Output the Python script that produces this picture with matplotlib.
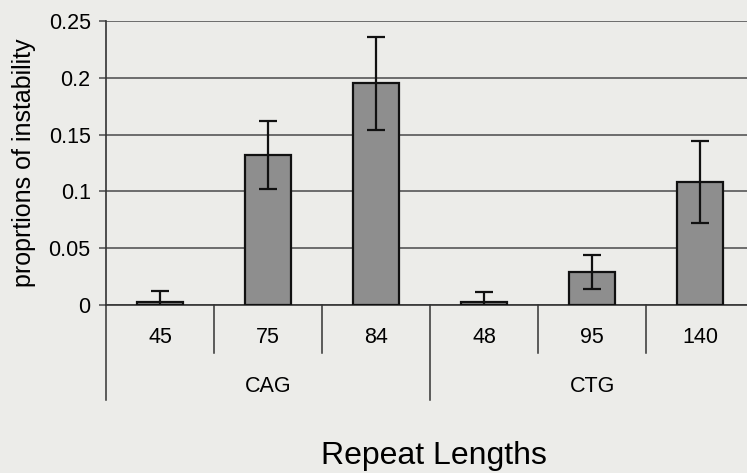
import matplotlib.pyplot as plt
import numpy as np

# repeat lengths grouped by repeat type
lengths = ["45", "75", "84", "48", "95", "140"]
groups = ["CAG", "CTG"]
group_size = [3, 3]
instability = [0.003, 0.132, 0.195, 0.003, 0.029, 0.108]
errors = [0.009, 0.030, 0.041, 0.008, 0.015, 0.036]

plt.rcParams['font.family'] = ['Liberation Sans', 'DejaVu Sans']

fig = plt.figure(figsize=(7.47, 4.73), dpi=100)
fig.patch.set_facecolor('#ecece9')
ax = fig.add_axes([0.1419, 0.3552, 0.8677, 0.6004])
ax.set_facecolor('#ecece9')

x = np.arange(len(lengths))
ax.bar(x, instability, width=0.42, color='#8e8e8e', edgecolor='#111111',
       linewidth=1.6, zorder=3)
ax.errorbar(x, instability, yerr=errors, fmt='none', ecolor='#111111',
            elinewidth=1.6, capsize=6.5, capthick=1.6, zorder=4)

ax.set_xlim(-0.5, len(lengths) - 0.5)
ax.set_ylim(0, 0.25)
ax.set_yticks([0, 0.05, 0.1, 0.15, 0.2, 0.25])
ax.set_yticklabels(["0", "0.05", "0.1", "0.15", "0.2", "0.25"], fontsize=15.5)
ax.yaxis.grid(True, color='#4a4a4a', linewidth=1.1, zorder=0)
ax.tick_params(axis='y', length=5, width=1.1, color='#4a4a4a', pad=6)
ax.set_xticks([])
for side in ['top', 'right']:
    ax.spines[side].set_visible(False)
ax.spines['left'].set_color('#333333')
ax.spines['left'].set_linewidth(1.2)
ax.spines['bottom'].set_color('#333333')
ax.spines['bottom'].set_linewidth(1.2)

ax.text(-0.1265, 0.502, "proprtions of instability", transform=ax.transAxes,
        rotation=90, ha='center', va='center', fontsize=18)

# category labels and dividers below the axis
trans = ax.get_xaxis_transform()
for i, lab in enumerate(lengths):
    ax.text(i, -0.134, lab, transform=trans, ha='center', va='baseline',
            fontsize=15.5)

bounds = np.cumsum([0] + group_size) - 0.5
for b in np.arange(-0.5, len(lengths)):
    long = b in bounds
    ax.plot([b, b], [0, -0.335 if long else -0.169], transform=trans,
            color='#333333', linewidth=1.1, clip_on=False)

for g, name in enumerate(groups):
    mid = (bounds[g] + bounds[g + 1]) / 2
    ax.text(mid, -0.306, name, transform=trans, ha='center', va='baseline',
            fontsize=15.5)

ax.text(2.54, -0.56, "Repeat Lengths", transform=trans, ha='center',
        va='baseline', fontsize=23)

fig.savefig("out.png", dpi=100, facecolor=fig.get_facecolor())
